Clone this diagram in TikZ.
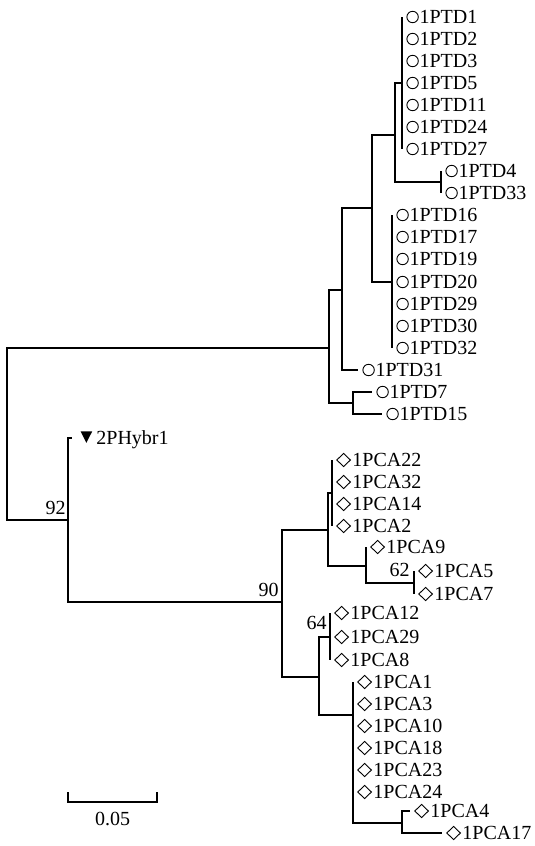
\documentclass[tikz,border=0pt]{standalone}
\usepackage{fontspec}
\setmainfont{Liberation Serif}
\usetikzlibrary{positioning}

\begin{document}
\begin{tikzpicture}[
    x=0.5pt, y=-0.5pt,
    font=\fontsize{10}{12}\selectfont,
    branch/.style={line width=0.6pt},
    leaf/.style={anchor=west, inner xsep=0pt, inner ysep=1pt, text height=6.8pt, text depth=0pt},
    ptdleaf/.style={leaf, execute at begin node={\hspace*{8.6pt}},
        path picture={\draw[line width=0.45pt] ([xshift=5.1pt]path picture bounding box.west) circle (2.85pt);}},
    pcaleaf/.style={leaf, execute at begin node={\hspace*{10pt}},
        path picture={\draw[line width=0.45pt] ([xshift=5.6pt]path picture bounding box.west)
            +(-3.4pt,0) -- +(0,3.3pt) -- +(3.4pt,0) -- +(0,-3.3pt) -- cycle;}},
    hybleaf/.style={leaf, execute at begin node={\hspace*{12pt}},
        path picture={\fill ([xshift=7pt]path picture bounding box.west)
            +(-2.9pt,3.3pt) -- +(2.9pt,3.3pt) -- +(0,-2.4pt) -- cycle;}},
    boot/.style={inner sep=0pt},
    scalebar/.style={line width=0.8pt}
]
\useasboundingbox (0,0) rectangle (535,846);

% Internal nodes
\coordinate (root) at (7,434);
\coordinate (ptd)  at (329,348);
\coordinate (ptdB) at (342,290);
\coordinate (ptdC) at (372,208);
\coordinate (ptdD) at (395,135);
\coordinate (ptdE) at (402,83);
\coordinate (ptdF) at (441,182);
\coordinate (ptdG) at (392,282);
\coordinate (ptdH) at (353,403);
\coordinate (hyb)  at (68,520);
\coordinate (pca)  at (282,602);
\coordinate (pcaB) at (328,530);
\coordinate (pcaC) at (332,493);
\coordinate (pcaD) at (366,566);
\coordinate (pcaE) at (414,583);
\coordinate (pcaF) at (319,677);
\coordinate (pcaG) at (330,637);
\coordinate (pcaH) at (353,715);
\coordinate (pcaI) at (402,823);

% PTD leaves
\node[ptdleaf] (ptd1)  at (402,17)  {1PTD1};
\node[ptdleaf] (ptd2)  at (402,39)  {1PTD2};
\node[ptdleaf] (ptd3)  at (402,61)  {1PTD3};
\node[ptdleaf] (ptd5)  at (402,83)  {1PTD5};
\node[ptdleaf] (ptd11) at (402,105) {1PTD11};
\node[ptdleaf] (ptd24) at (402,127) {1PTD24};
\node[ptdleaf] (ptd27) at (402,149) {1PTD27};
\node[ptdleaf] (ptd4)  at (441,171) {1PTD4};
\node[ptdleaf] (ptd33) at (441,193) {1PTD33};
\node[ptdleaf] (ptd16) at (392,215) {1PTD16};
\node[ptdleaf] (ptd17) at (392,237) {1PTD17};
\node[ptdleaf] (ptd19) at (392,259) {1PTD19};
\node[ptdleaf] (ptd20) at (392,282) {1PTD20};
\node[ptdleaf] (ptd29) at (392,304) {1PTD29};
\node[ptdleaf] (ptd30) at (392,326) {1PTD30};
\node[ptdleaf] (ptd32) at (392,348) {1PTD32};
\node[ptdleaf] (ptd31) at (358,370) {1PTD31};
\node[ptdleaf] (ptd7)  at (372,392) {1PTD7};
\node[ptdleaf] (ptd15) at (382,414) {1PTD15};

% Hybrid and PCA leaves
\node[hybleaf] (hybr1) at (72,438) {2PHybr1};
\node[pcaleaf] (pca22) at (332,460) {1PCA22};
\node[pcaleaf] (pca32) at (332,482) {1PCA32};
\node[pcaleaf] (pca14) at (332,504) {1PCA14};
\node[pcaleaf] (pca2)  at (332,526) {1PCA2};
\node[pcaleaf] (pca9)  at (366,547) {1PCA9};
\node[pcaleaf] (pca5)  at (414,571) {1PCA5};
\node[pcaleaf] (pca7)  at (414,594) {1PCA7};
\node[pcaleaf] (pca12) at (330,613) {1PCA12};
\node[pcaleaf] (pca29) at (330,637) {1PCA29};
\node[pcaleaf] (pca8)  at (330,660) {1PCA8};
\node[pcaleaf] (pca1)  at (353,682) {1PCA1};
\node[pcaleaf] (pca3)  at (353,704) {1PCA3};
\node[pcaleaf] (pca10) at (353,726) {1PCA10};
\node[pcaleaf] (pca18) at (353,748) {1PCA18};
\node[pcaleaf] (pca23) at (353,770) {1PCA23};
\node[pcaleaf] (pca24) at (353,792) {1PCA24};
\node[pcaleaf] (pca4)  at (410,811) {1PCA4};
\node[pcaleaf] (pca17) at (442,833) {1PCA17};

% Branches
\draw[branch] (root) |- (ptd) (root) |- (hyb);
\draw[branch] (ptd) |- (ptdB) (ptd) |- (ptdH);
\draw[branch] (ptdB) |- (ptdC) (ptdB) |- (ptd31.west);
\draw[branch] (ptdC) |- (ptdD) (ptdC) |- (ptdG);
\draw[branch] (ptdD) |- (ptdE) (ptdD) |- (ptdF);
\draw[branch] (ptdE) |- (ptd1.west) (ptdE) |- (ptd2.west) (ptdE) |- (ptd3.west) (ptdE) |- (ptd5.west)
    (ptdE) |- (ptd11.west) (ptdE) |- (ptd24.west) (ptdE) |- (ptd27.west);
\draw[branch] (ptdF) |- (ptd4.west) (ptdF) |- (ptd33.west);
\draw[branch] (ptdG) |- (ptd16.west) (ptdG) |- (ptd17.west) (ptdG) |- (ptd19.west) (ptdG) |- (ptd20.west)
    (ptdG) |- (ptd29.west) (ptdG) |- (ptd30.west) (ptdG) |- (ptd32.west);
\draw[branch] (ptdH) |- (ptd7.west) (ptdH) |- (ptd15.west);

\draw[branch] (hyb) |- (hybr1.west) (hyb) |- (pca);
\draw[branch] (pca) |- (pcaB) (pca) |- (pcaF);
\draw[branch] (pcaB) |- (pcaC) (pcaB) |- (pcaD);
\draw[branch] (pcaC) |- (pca22.west) (pcaC) |- (pca32.west) (pcaC) |- (pca14.west) (pcaC) |- (pca2.west);
\draw[branch] (pcaD) |- (pca9.west) (pcaD) |- (pcaE);
\draw[branch] (pcaE) |- (pca5.west) (pcaE) |- (pca7.west);
\draw[branch] (pcaF) |- (pcaG) (pcaF) |- (pcaH);
\draw[branch] (pcaG) |- (pca12.west) (pcaG) |- (pca29.west) (pcaG) |- (pca8.west);
\draw[branch] (pcaH) |- (pca1.west) (pcaH) |- (pca3.west) (pcaH) |- (pca10.west) (pcaH) |- (pca18.west)
    (pcaH) |- (pca23.west) (pcaH) |- (pca24.west) (pcaH) |- (pcaI);
\draw[branch] (pcaI) |- (pca4.west) (pcaI) |- (pca17.west);

% Bootstrap values
\node[boot, above left=2.5pt and 1pt of hyb] (b92) {92};
\node[boot, above left=2.5pt and 1.5pt of pca] (b90) {90};
\node[boot, above left=3pt and 2pt of pcaE] (b62) {62};
\node[boot, above left=3.5pt and 1.5pt of pcaG] (b64) {64};

% Scale bar
\draw[scalebar] (68,792) -- (68,802) -- node[boot, below=4.5pt] (scale) {0.05} (157,802) -- (157,792);

\end{tikzpicture}
\end{document}
